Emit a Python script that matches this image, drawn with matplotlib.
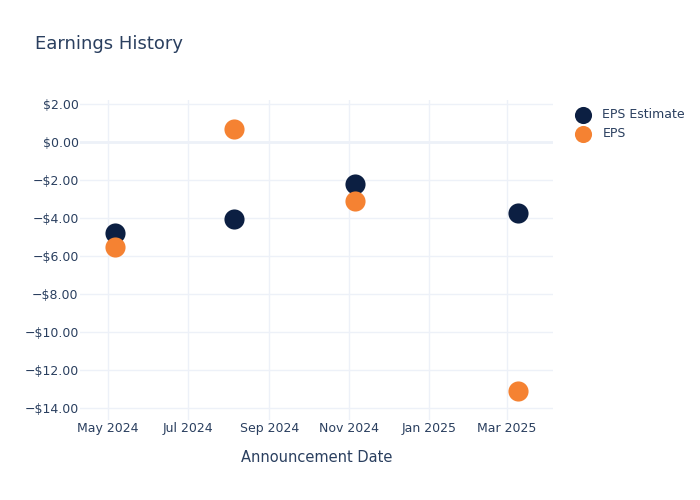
import numpy as np
import matplotlib
matplotlib.use("Agg")
import matplotlib.pyplot as plt
import matplotlib.dates as mdates
from matplotlib.ticker import FuncFormatter, MultipleLocator

dates = np.array(["2024-05-07", "2024-08-05", "2024-11-05", "2025-03-09"], dtype="datetime64[D]")
eps_estimate = [-4.79, -4.02, -2.18, -3.70]
eps_actual = [-5.53, 0.72, -3.09, -13.09]

text_col = "#2a3f5f"
grid_col = "#edf1f8"

plt.rcParams['font.family'] = ['DejaVu Sans']

fig = plt.figure(figsize=(7, 5), dpi=100)
ax = fig.add_axes([80/700, 80/500, 473/700, 320/500])

ax.scatter(dates, eps_estimate, s=210, color="#0c1f42", label="EPS Estimate", zorder=3, linewidths=0)
ax.scatter(dates, eps_actual, s=210, color="#f58232", label="EPS", zorder=3, linewidths=0)

ax.set_xlim(np.datetime64("2024-04-10"), np.datetime64("2025-04-05"))
ax.set_ylim(-14.62, 2.23)

ax.xaxis.set_major_locator(mdates.MonthLocator(bymonth=[1, 3, 5, 7, 9, 11]))
ax.xaxis.set_major_formatter(mdates.DateFormatter("%b %Y"))
ax.yaxis.set_major_locator(MultipleLocator(2))

def money(v, pos):
    if v < 0:
        return "\u2212$%.2f" % abs(v)
    return "$%.2f" % v

ax.yaxis.set_major_formatter(FuncFormatter(money))

ax.grid(True, color=grid_col, linewidth=1)
ax.axhline(0, color=grid_col, linewidth=2, zorder=1)
ax.set_axisbelow(True)
for s in ax.spines.values():
    s.set_visible(False)
ax.tick_params(length=0, labelsize=9, colors=text_col)
ax.tick_params(axis="x", pad=1.5)
ax.tick_params(axis="y", pad=1)

ax.set_xlabel("Announcement Date", fontsize=10.5, color=text_col, labelpad=10.5)
fig.text(35/700, 1 - 44/500, "Earnings History", fontsize=13, color=text_col, va="center")

leg = fig.legend(loc="upper left", bbox_to_anchor=(575/700, 1 - 108/500), frameon=False, fontsize=9,
                 labelcolor=text_col, handlelength=1.2, handletextpad=1.0, borderaxespad=0,
                 borderpad=0, labelspacing=0.5, markerscale=0.85)

fig.savefig("out.png", dpi=100, facecolor="white")
